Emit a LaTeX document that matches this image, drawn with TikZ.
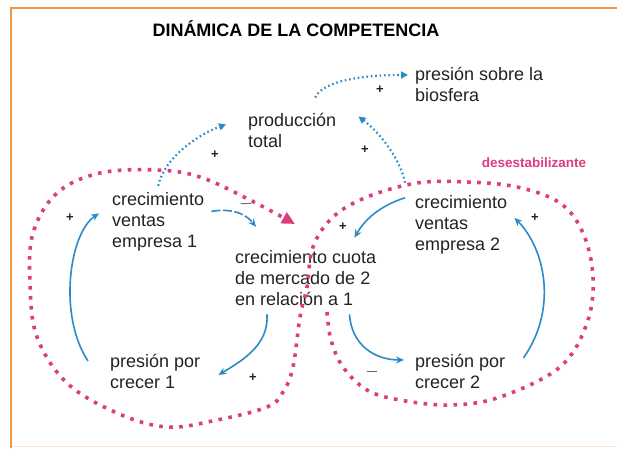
\documentclass[tikz,border=0pt]{standalone}
\usepackage{fontspec}
\setmainfont{Liberation Sans}
\usetikzlibrary{arrows.meta}
\definecolor{loopblue}{RGB}{44,138,200}
\definecolor{looppink}{RGB}{222,60,128}
\definecolor{frameorange}{RGB}{240,150,72}
\definecolor{framepeach}{RGB}{250,226,204}
\definecolor{inkgray}{RGB}{35,35,35}

\begin{document}
\begin{tikzpicture}[x=1pt,y=-1pt,
	varbox/.style={anchor=base west,align=left,inner sep=0pt,text=inkgray,font=\fontsize{18}{21}\selectfont},
	sign/.style={inner sep=0pt,text=inkgray,font=\bfseries\fontsize{13}{13}\selectfont},
	minus/.style={sign,font=\fontsize{17}{17}\selectfont},
	flow/.style={draw=loopblue,line width=1.6pt,-{Stealth[length=8pt,width=7pt]}},
	bdots/.style={draw=loopblue,line width=2.2pt,dash pattern=on 1.6pt off 2.8pt,-{Triangle[length=7pt,width=7pt]}},
	pdots/.style={draw=looppink,line width=3.6pt,dash pattern=on 3.6pt off 6.4pt}]
	\useasboundingbox[fill=white] (0,0) rectangle (617,448);
	% frame
	\draw[framepeach,line width=1.5pt] (11,446.5) -- (617,446.5);
	\draw[frameorange,line width=2.5pt] (11,448) -- (11,8) -- (617,8);
	\node[font=\bfseries\fontsize{18}{18}\selectfont] (title) at (296,29) {DINÁMICA DE LA COMPETENCIA};
	% variables (base = last line)
	\node[varbox] (bio) at (415,101) {presión sobre la\\biosfera};
	\node[varbox] (prod) at (248,147) {producción\\total};
	\node[varbox] (emp1) at (112,247) {crecimiento\\ventas\\empresa 1};
	\node[varbox] (cuota) at (235,305) {crecimiento cuota\\de mercado de 2\\en relación a 1};
	\node[varbox] (emp2) at (415,250) {crecimiento\\ventas\\empresa 2};
	\node[varbox] (pres1) at (110,388) {presión por\\crecer 1};
	\node[varbox] (pres2) at (415,388) {presión por\\crecer 2};
	\node[text=looppink,font=\bfseries\fontsize{13.5}{14}\selectfont] (desest) at (534,163) {desestabilizante};
	% pink loop
	\draw[pdots,-{Triangle[length=13pt,width=12pt]}] plot[smooth,tension=0.6] coordinates {
		(327,312) (331,340) (343,367) (367,390) (400,400) (450,405) (500,397) (560,367)
		(587,323) (593,277) (583,233) (560,203) (517,187) (467,182) (417,183) (367,197)
		(333,217) (313,247) (307,287) (300,317) (293,367) (283,392) (267,407) (217,420)
		(167,427) (117,413) (67,383) (37,337) (30,283) (33,233) (57,193) (100,173)
		(157,170) (200,177) (250,200) (295,224)};
	% dotted links
	\draw[bdots] ([yshift=6pt]emp1.north) .. controls +(6,-28) and +(-28,10) .. ([xshift=-22pt,yshift=5.5pt]prod.west);
	\draw[bdots] ([xshift=-10pt,yshift=12pt]emp2.north west) .. controls +(-5,-25) and +(20,15) .. ([xshift=22pt,yshift=-4pt]prod.north east);
	\draw[bdots] ([xshift=23pt,yshift=15pt]prod.north) .. controls +(8,-18) and +(-40,0) .. ([xshift=-7pt,yshift=9pt]bio.west);
	% solid links
	\draw[flow,dash pattern=on 9pt off 2.5pt] ([xshift=7pt,yshift=10pt]emp1.east) .. controls +(25,-4) and +(-8,-10) .. ([xshift=21pt,yshift=23pt]cuota.north west);
	\draw[flow] ([xshift=-10pt,yshift=-3pt]emp2.north west) .. controls +(-25,8) and +(10,-18) .. ([xshift=-22pt,yshift=12pt]cuota.north east);
	\draw[flow] ([xshift=32pt,yshift=-9pt]cuota.south west) .. controls +(2,30) and +(25,-15) .. ([xshift=18pt,yshift=-4pt]pres1.east);
	\draw[flow] ([xshift=-22pt,yshift=10pt]pres1.west) .. controls +(-30,-45) and +(-30,20) .. ([xshift=-13pt,yshift=8pt]emp1.west);
	\draw[flow] ([xshift=-27pt,yshift=-9pt]cuota.south east) .. controls +(2,30) and +(-30,0) .. ([xshift=-11pt,yshift=11pt]pres2.west);
	\draw[flow] ([xshift=18pt,yshift=13pt]pres2.east) .. controls +(35,-50) and +(30,30) .. ([xshift=7pt,yshift=6.5pt]emp2.east);
	% polarities
	\node[sign] (s1) at (215,155) {+};
	\node[sign] (s2) at (365,150) {+};
	\node[sign] (s3) at (380,90) {+};
	\node[minus] (s4) at (246,204) {$-$};
	\node[sign] (s5) at (343,227) {+};
	\node[sign] (s6) at (253,378) {+};
	\node[sign] (s7) at (70,218) {+};
	\node[minus] (s8) at (372,372) {$-$};
	\node[sign] (s9) at (535,218) {+};
\end{tikzpicture}
\end{document}
